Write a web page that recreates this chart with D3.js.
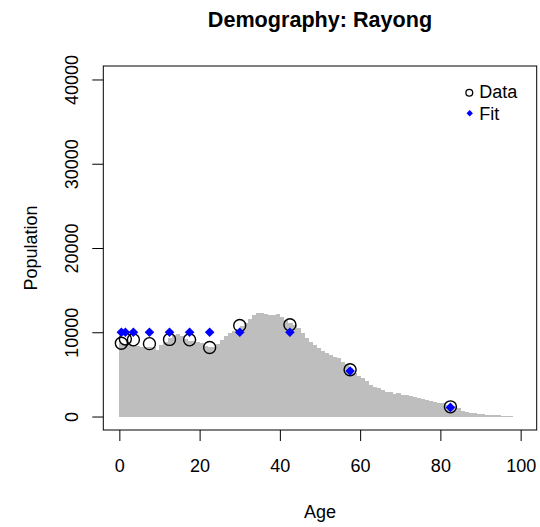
<!DOCTYPE html>
<html>
<head>
<meta charset="utf-8">
<script src="https://cdn.jsdelivr.net/npm/d3@7"></script>
<style>
  body { margin: 0; background: #fff; }
  text { font-family: "Liberation Sans", Arial, sans-serif; fill: #000; }
</style>
</head>
<body>
<div id="vis"></div>
<script>
// single-year population, ages 0..97
var popByAge = [
  8700, 8600, 8500, 8500, 8400, 8300, 8300, 8300, 8200, 7950,
  8500, 8800, 9300, 9700, 9800, 9600, 9200, 9000, 9000, 8900,
  8700, 8400, 8300, 8300, 8600, 9100, 9500, 9900, 10200, 10400,
  10700, 11100, 11600, 12100, 12250, 12250, 12200, 12100, 12050, 12200,
  11800, 11500, 11100, 10900, 10500, 9900, 9300, 8900, 8500, 8100,
  7800, 7500, 7300, 7100, 6900, 6500, 6200, 5800, 5200, 4750,
  4550, 4200, 3800, 3550, 3400, 3150, 2950, 2900, 2700, 2750,
  2550, 2600, 2450, 2350, 2250, 2100, 2000, 1900, 1750, 1650,
  1550, 1400, 1300, 1200, 1050, 650, 500, 420, 360, 300,
  260, 230, 200, 170, 150, 120, 100, 80
];

// age-group midpoints with observed and fitted counts
var groupAges = [0.5, 1.5, 3.5, 7.5, 12.5, 17.5, 22.5, 30, 42.5, 57.5, 82.5];
var dataPop = [8700, 9200, 9100, 8650, 9150, 9100, 8200, 10800, 10900, 5550, 1150];
var fitPop = [10000, 10000, 10000, 10000, 10000, 10000, 10000, 10000, 10000, 5400, 1080];

var xTicks = [0, 20, 40, 60, 80, 100];
var yTicks = [0, 10000, 20000, 30000, 40000];

function drawChart() {
    var W = 540, H = 527,
        pL = 103.3, pR = 536.7, pT = 66, pB = 430;

    var svg = d3.select("#vis").append("svg").attr("width", W).attr("height", H);

    var x = d3.scaleLinear().domain([-4, 104]).range([pL, pR]),
        y = d3.scaleLinear().domain([-1600, 41600]).range([pB, pT]);

    // grey bars, one per year of age
    svg.append("g").attr("shape-rendering", "crispEdges").selectAll("rect")
        .data(popByAge)
      .enter().append("rect")
        .attr("x", function(d, i) { return x(i); })
        .attr("width", function(d, i) { return x(i + 1) - x(i) + 0.6; })
        .attr("y", function(d) { return y(d); })
        .attr("height", function(d) { return y(0) - y(d); })
        .attr("fill", "#bebebe");

    // observed points
    svg.append("g").selectAll("circle")
        .data(dataPop)
      .enter().append("circle")
        .attr("cx", function(d, i) { return x(groupAges[i]); })
        .attr("cy", function(d) { return y(d); })
        .attr("r", 6)
        .attr("fill", "none")
        .attr("stroke", "#000")
        .attr("stroke-width", 1.4);

    // fitted points (filled diamonds)
    var diamond = function(s) { return "M0," + (-s) + "L" + s + ",0L0," + s + "L" + (-s) + ",0Z"; };
    svg.append("g").selectAll("path")
        .data(fitPop)
      .enter().append("path")
        .attr("transform", function(d, i) { return "translate(" + x(groupAges[i]) + "," + y(d) + ")"; })
        .attr("d", diamond(4.8))
        .attr("fill", "#0000ff");

    // axes
    var xAxis = svg.append("g").attr("transform", "translate(0," + pB + ")")
        .call(d3.axisBottom(x).tickValues(xTicks).tickSize(11).tickPadding(18).tickSizeOuter(0));
    xAxis.select(".domain").remove();
    xAxis.attr("font-size", 18).attr("font-family", null);

    var yAxis = svg.append("g").attr("transform", "translate(" + pL + ",0)")
        .call(d3.axisLeft(y).tickValues(yTicks).tickSize(11).tickFormat(d3.format("d")));
    yAxis.select(".domain").remove();
    yAxis.attr("font-size", 18).attr("font-family", null);
    yAxis.selectAll("text")
        .attr("transform", "rotate(-90)")
        .attr("x", 0).attr("y", -25).attr("dy", 0)
        .attr("text-anchor", "middle");
    svg.selectAll(".tick line").attr("stroke", "#000");

    // box
    svg.append("rect")
        .attr("x", pL).attr("y", pT)
        .attr("width", pR - pL).attr("height", pB - pT)
        .attr("fill", "none").attr("stroke", "#000").attr("stroke-width", 1);

    // titles
    svg.append("text").attr("x", (pL + pR) / 2).attr("y", 27)
        .attr("text-anchor", "middle").attr("font-size", 21.6).attr("font-weight", "bold")
        .text("Demography: Rayong");
    svg.append("text").attr("x", (pL + pR) / 2).attr("y", 518)
        .attr("text-anchor", "middle").attr("font-size", 18).text("Age");
    svg.append("text").attr("transform", "translate(36.7," + ((pT + pB) / 2) + ") rotate(-90)")
        .attr("text-anchor", "middle").attr("font-size", 18).text("Population");

    // legend
    var legend = svg.append("g");
    legend.append("circle").attr("cx", 469.3).attr("cy", 92.7).attr("r", 3.4)
        .attr("fill", "none").attr("stroke", "#000").attr("stroke-width", 1.3);
    legend.append("path").attr("transform", "translate(469.7,113.3)").attr("d", diamond(3.2)).attr("fill", "#0000ff");
    legend.append("text").attr("x", 479.3).attr("y", 97.5).attr("font-size", 18).text("Data");
    legend.append("text").attr("x", 479.3).attr("y", 120).attr("font-size", 18).text("Fit");
}

drawChart();
</script>
</body>
</html>
